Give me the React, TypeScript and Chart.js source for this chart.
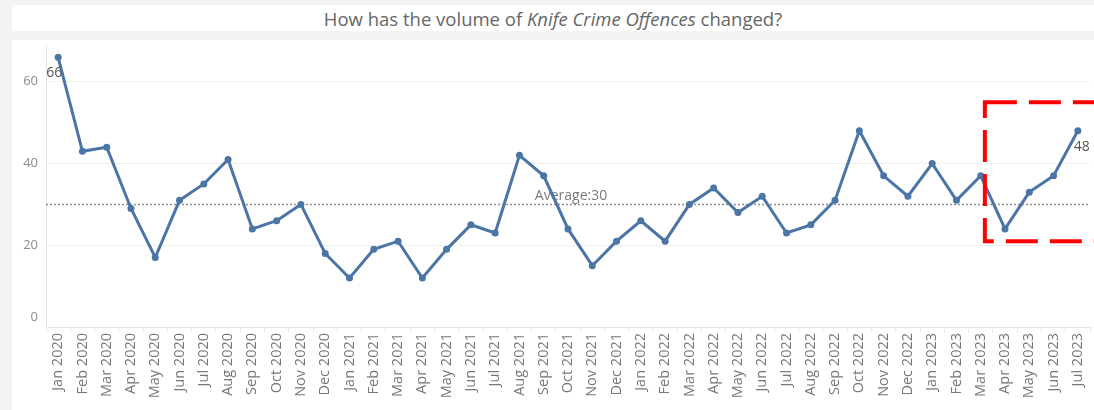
import React, { useEffect, useRef } from 'react';
import { Chart, registerables } from 'chart.js';

Chart.register(...registerables);

const categories: string[] = [
  'Jan 2020', 'Feb 2020', 'Mar 2020', 'Apr 2020', 'May 2020', 'Jun 2020', 'Jul 2020', 'Aug 2020', 'Sep 2020', 'Oct 2020', 'Nov 2020', 'Dec 2020',
  'Jan 2021', 'Feb 2021', 'Mar 2021', 'Apr 2021', 'May 2021', 'Jun 2021', 'Jul 2021', 'Aug 2021', 'Sep 2021', 'Oct 2021', 'Nov 2021', 'Dec 2021',
  'Jan 2022', 'Feb 2022', 'Mar 2022', 'Apr 2022', 'May 2022', 'Jun 2022', 'Jul 2022', 'Aug 2022', 'Sep 2022', 'Oct 2022', 'Nov 2022', 'Dec 2022',
  'Jan 2023', 'Feb 2023', 'Mar 2023', 'Apr 2023', 'May 2023', 'Jun 2023', 'Jul 2023',
];

const offences: number[] = [
  66, 43, 44, 29, 17, 31, 35, 41, 24, 26, 30, 18,
  12, 19, 21, 12, 19, 25, 23, 42, 37, 24, 15, 21,
  26, 21, 30, 34, 28, 32, 23, 25, 31, 48, 37, 32,
  40, 31, 37, 24, 33, 37, 48,
];

const yTicks: number[] = [0, 20, 40, 60];
const labelledMonths: string[] = ['Jan 2020', 'Jul 2023'];
const highlightMonths: string[] = ['Mar 2023', 'Jul 2023'];
const highlightRange: number[] = [21, 55];

const FONT = '"Open Sans", "Noto Sans", sans-serif';
const LINE_COLOR = '#4b75a5';

const overlayPlugin = {
  id: 'overlay',
  beforeDatasetsDraw(chart: any) {
    const { ctx, chartArea, scales } = chart;
    const y = scales.y;
    // y tick labels
    ctx.save();
    ctx.fillStyle = '#8c8c8c';
    ctx.font = `13px ${FONT}`;
    ctx.textAlign = 'right';
    ctx.textBaseline = 'middle';
    yTicks.forEach((v) => {
      const py = Math.min(y.getPixelForValue(v), chartArea.bottom - 10);
      ctx.fillText(String(v), chartArea.left - 8, py);
    });
    ctx.restore();

    const avg = Math.round(offences.reduce((a, b) => a + b, 0) / offences.length);
    const py = Math.round(y.getPixelForValue(avg)) + 0.5;
    ctx.save();
    ctx.strokeStyle = '#8f8f8f';
    ctx.lineWidth = 1.5;
    ctx.setLineDash([2, 2]);
    ctx.beginPath();
    ctx.moveTo(chartArea.left, py);
    ctx.lineTo(chartArea.right, py);
    ctx.stroke();
    ctx.setLineDash([]);
    ctx.fillStyle = '#7a7a7a';
    ctx.font = `14px ${FONT}`;
    ctx.textAlign = 'center';
    ctx.textBaseline = 'bottom';
    ctx.fillText(`Average:${avg}`, (chartArea.left + chartArea.right) / 2 + 3, py - 1);
    ctx.restore();
  },
  afterDatasetsDraw(chart: any) {
    const { ctx, scales } = chart;
    const x = scales.x;
    const y = scales.y;
    ctx.save();
    // data labels
    ctx.fillStyle = '#555';
    ctx.font = `14px ${FONT}`;
    ctx.textBaseline = 'middle';
    ctx.textAlign = 'left';
    labelledMonths.forEach((m, k) => {
      const i = categories.indexOf(m);
      const px = x.getPixelForValue(i);
      const py = y.getPixelForValue(offences[i]);
      const dx = k === 0 ? -12 : -4;
      ctx.fillText(String(offences[i]), px + dx, py + 16);
    });
    // highlight box
    const i0 = categories.indexOf(highlightMonths[0]);
    const i1 = categories.indexOf(highlightMonths[1]);
    const left = x.getPixelForValue(i0 + 0.17);
    const right = x.getPixelForValue(i1) + 40;
    const top = y.getPixelForValue(highlightRange[1]);
    const bottom = y.getPixelForValue(highlightRange[0]);
    ctx.strokeStyle = '#ff0000';
    ctx.lineWidth = 4;
    ctx.setLineDash([32, 12]);
    ctx.beginPath();
    ctx.moveTo(left, top);
    ctx.lineTo(right, top);
    ctx.lineTo(right, bottom);
    ctx.lineTo(left, bottom);
    ctx.closePath();
    ctx.stroke();
    ctx.restore();
  },
};

function KnifeCrimeChart() {
  const canvasRef = useRef<HTMLCanvasElement | null>(null);

  useEffect(() => {
    document.body.style.margin = '0';
    document.body.style.background = '#f3f3f3';
    const canvas = canvasRef.current;
    if (!canvas) return;
    const chart = new Chart(canvas, {
      type: 'line',
      data: {
        labels: categories,
        datasets: [
          {
            data: offences,
            borderColor: LINE_COLOR,
            backgroundColor: LINE_COLOR,
            borderWidth: 3,
            pointRadius: 3.5,
            pointBorderWidth: 0,
            pointBackgroundColor: LINE_COLOR,
            tension: 0,
            clip: false as any,
          },
        ],
      },
      options: {
        responsive: false,
        animation: false,
        layout: { padding: { top: 5, right: 0, left: 0, bottom: 0 } },
        plugins: {
          legend: { display: false },
          tooltip: { enabled: false },
          title: { display: false },
        },
        scales: {
          x: {
            offset: true,
            grid: {
              display: true,
              drawOnChartArea: false,
              drawTicks: true,
              tickLength: 6,
              offset: true,
              color: '#ececec',
            },
            border: { display: true, color: '#e4e4e4' },
            ticks: {
              autoSkip: false,
              minRotation: 90,
              maxRotation: 90,
              padding: 0,
              color: '#777',
              font: { family: FONT, size: 14.5 },
            },
            afterFit(scale: any) {
              scale.height = 83;
              scale.paddingLeft = 0;
              scale.paddingRight = 0;
            },
          },
          y: {
            min: 0,
            max: 69,
            afterBuildTicks(scale: any) {
              scale.ticks = yTicks.map((v) => ({ value: v }));
            },
            grid: { color: '#efefef', drawTicks: false },
            border: { display: true, color: '#e4e4e4' },
            ticks: { display: false },
            afterFit(scale: any) {
              scale.width = 34;
              scale.paddingTop = 0;
              scale.paddingBottom = 0;
            },
          },
        },
      },
      plugins: [overlayPlugin],
    });
    return () => chart.destroy();
  }, []);

  return (
    <div style={{ position: 'relative', width: 1094, height: 410, background: '#f3f3f3', overflow: 'hidden' }}>
      <div
        style={{
          position: 'absolute',
          left: 12,
          top: 5,
          width: 1082,
          height: 26,
          background: '#fff',
          display: 'flex',
          alignItems: 'center',
          justifyContent: 'center',
          fontFamily: FONT,
          fontSize: 18.5,
          color: '#666',
          whiteSpace: 'pre',
        }}
      >
        <span>How has the volume of </span>
        <span style={{ fontStyle: 'italic' }}>Knife Crime Offences</span>
        <span> changed?</span>
      </div>
      <div style={{ position: 'absolute', left: 12, top: 40, width: 1082, height: 370, background: '#fff' }}>
        <canvas ref={canvasRef} width={1082} height={370} style={{ display: 'block' }} />
      </div>
    </div>
  );
}

export default function App() {
  return <KnifeCrimeChart />;
}
